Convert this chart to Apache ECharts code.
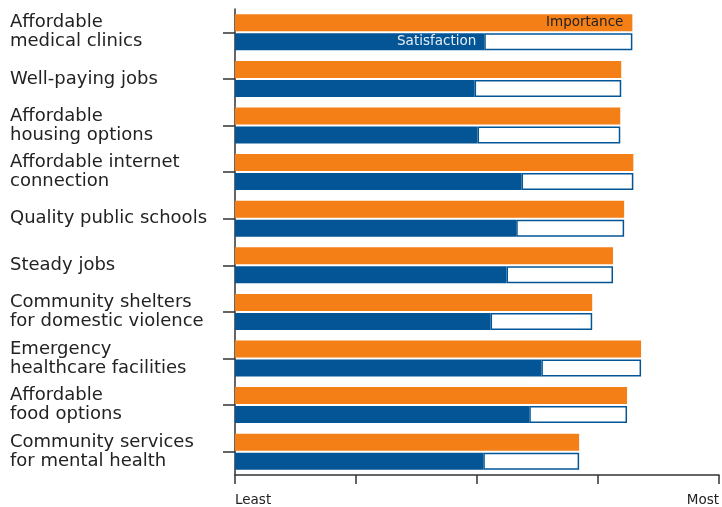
<!DOCTYPE html>
<html>
<head>
<meta charset="utf-8">
<script src="https://cdn.jsdelivr.net/npm/echarts@6/dist/echarts.min.js"></script>
<style>
html,body{margin:0;padding:0;background:#fff;}
#chart{width:722px;height:507px;}
</style>
</head>
<body>
<div id="chart"></div>
<script>
const categories = [
  "Affordable\nmedical clinics",
  "Well-paying jobs",
  "Affordable\nhousing options",
  "Affordable internet\nconnection",
  "Quality public schools",
  "Steady jobs",
  "Community shelters\nfor domestic violence",
  "Emergency\nhealthcare facilities",
  "Affordable\nfood options",
  "Community services\nfor mental health"
];
const importance = [82.1, 79.8, 79.6, 82.3, 80.4, 78.1, 73.8, 83.9, 81.0, 71.1];
const satisfaction = [51.5, 49.5, 50.1, 59.2, 58.1, 56.1, 52.8, 63.3, 60.8, 51.3];
const xTickLabels = {0: "Least", 100: "Most"};

const FONT = "DejaVu Sans";
const ORANGE = "#F57F17";
const BLUE = "#035596";

const gap = importance.map((v, i) => +(v - satisfaction[i]).toFixed(1));

const chart = echarts.init(document.getElementById('chart'), null, {renderer: 'canvas'});
chart.setOption({
  animation: false,
  textStyle: {fontFamily: FONT},
  grid: {left: 235, right: 2, top: 9, bottom: 31.5, containLabel: false},
  xAxis: {
    type: 'value', min: 0, max: 100, interval: 25,
    splitLine: {show: false},
    axisLine: {show: true, lineStyle: {color: '#333', width: 1.5}},
    axisTick: {show: true, length: 9, lineStyle: {color: '#333', width: 1.5}},
    axisLabel: {
      show: true, margin: 18, fontSize: 13.5, color: '#222', fontFamily: FONT,
      alignMinLabel: 'left', alignMaxLabel: 'right',
      formatter: v => xTickLabels[v] || ''
    }
  },
  yAxis: {
    type: 'category', data: categories, inverse: true,
    axisLine: {show: true, lineStyle: {color: '#333', width: 1.5}},
    axisTick: {show: true, alignWithLabel: true, length: 12, lineStyle: {color: '#333', width: 1.5}},
    axisLabel: {
      show: true, align: 'left', margin: 225, fontSize: 18, lineHeight: 19,
      color: '#222', fontFamily: FONT, padding: [2, 0, 0, 0]
    }
  },
  series: [
    {
      name: 'Importance', type: 'bar', data: importance.map((v, i) => i === 0 ? {
        value: v, label: {show: true, position: 'insideRight', formatter: 'Importance', color: '#222', fontSize: 13.5, offset: [-4, 0]}
      } : v),
      barWidth: 17, barGap: '12%', itemStyle: {color: ORANGE}
    },
    {
      name: 'Satisfaction', type: 'bar', stack: 's', data: satisfaction.map((v, i) => i === 0 ? {
        value: v, label: {show: true, position: 'insideRight', formatter: 'Satisfaction', color: '#e6eef7', fontSize: 13.5, offset: [-3, 0]}
      } : v),
      barWidth: 17, itemStyle: {color: BLUE}, z: 3
    },
    {
      name: 'Gap', type: 'bar', stack: 's', data: gap,
      barWidth: 17, itemStyle: {color: '#fff', borderColor: BLUE, borderWidth: 1.5}, z: 2
    }
  ]
});
</script>
</body>
</html>
